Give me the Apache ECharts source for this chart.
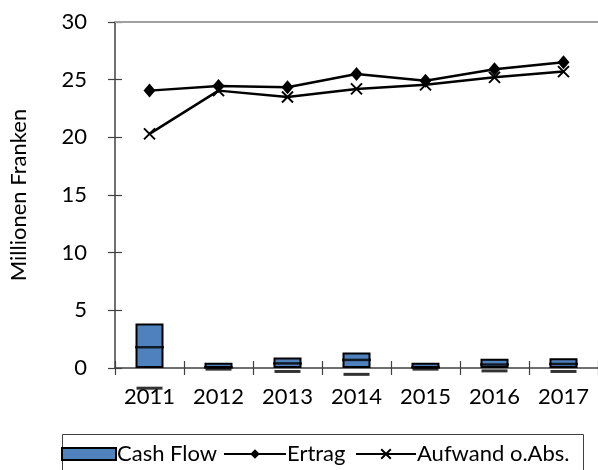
<!DOCTYPE html>
<html>
<head>
<meta charset="utf-8">
<script src="https://cdn.jsdelivr.net/npm/echarts@6/dist/echarts.min.js"></script>
<style>
html,body{margin:0;padding:0;background:#fff;}
#chart{width:598px;height:470px;}
</style>
</head>
<body>
<div id="chart"></div>
<script>
const years = ['2011','2012','2013','2014','2015','2016','2017'];
const cashFlowTop = [3.85, 0.45, 0.9, 1.35, 0.45, 0.8, 0.85];
const cashFlowMid = [1.8, 0.05, 0.4, 0.7, 0.05, 0.3, 0.35];
const cashFlowLow = [-1.75, -0.1, -0.3, -0.55, -0.1, -0.25, -0.3];
const ertrag = [24.05, 24.45, 24.35, 25.5, 24.9, 25.9, 26.5];
const aufwand = [20.3, 24.05, 23.5, 24.2, 24.55, 25.2, 25.7];
const yTicks = {min: 0, max: 30, interval: 5};

const FONT = 'Lato';
const FS = 22;
const xMarker = 'path://M0,0L10,10M10,0L0,10';

const chart = echarts.init(document.getElementById('chart'), null, {renderer: 'canvas'});
chart.setOption({
  animation: false,
  textStyle: {fontFamily: FONT},
  grid: {left: 104, top: 22, width: 496, height: 346, containLabel: false},
  xAxis: [{
    type: 'category', data: years, gridIndex: 0,
    axisLine: {lineStyle: {color: '#404040', width: 1.5}},
    axisTick: {show: true, length: 7, lineStyle: {color: '#404040', width: 1.2}},
    axisLabel: {color: '#000', fontSize: FS, fontFamily: FONT, margin: 18}
  }, {
    type: 'category', data: years, gridIndex: 0, position: 'bottom',
    axisLine: {show: false},
    axisTick: {show: true, inside: true, length: 7, lineStyle: {color: '#404040', width: 1.2}},
    axisLabel: {show: false}
  }],
  yAxis: [{
    type: 'value', min: yTicks.min, max: yTicks.max, interval: yTicks.interval,
    name: 'Millionen Franken', nameLocation: 'middle', nameGap: 85, nameRotate: 90,
    nameTextStyle: {color: '#000', fontSize: FS, fontFamily: FONT},
    axisLine: {show: true, lineStyle: {color: '#404040', width: 1.5}},
    axisTick: {show: true, length: 7, lineStyle: {color: '#404040', width: 1.2}},
    axisLabel: {color: '#000', fontSize: FS, fontFamily: FONT, margin: 28},
    splitLine: {show: false}
  }, {
    type: 'value', min: yTicks.min, max: yTicks.max, interval: yTicks.interval, position: 'left',
    axisLine: {show: false},
    axisTick: {show: true, inside: true, length: 7, lineStyle: {color: '#404040', width: 1.2}},
    axisLabel: {show: false},
    splitLine: {show: false}
  }],
  legend: [{
    data: [{name: 'Cash Flow', icon: 'rect'}], left: 61, top: 443, padding: 0,
    itemWidth: 54, itemHeight: 12, itemGap: 0,
    textStyle: {color: '#000', fontSize: FS, fontFamily: FONT, padding: [0,0,0,-4]}
  }, {
    data: ['Ertrag'], left: 223, top: 443, padding: 0,
    itemWidth: 62, itemHeight: 12,
    textStyle: {color: '#000', fontSize: FS, fontFamily: FONT, padding: [0,0,0,-4]}
  }, {
    data: ['Aufwand o.Abs.'], left: 355, top: 443, padding: 0,
    itemWidth: 60, itemHeight: 12,
    textStyle: {color: '#000', fontSize: FS, fontFamily: FONT, padding: [0,0,0,-4]}
  }],
  graphic: [{
    type: 'rect', left: 60, top: 432,
    shape: {width: 521, height: 60},
    style: {fill: 'none', stroke: '#404040', lineWidth: 1}
  }],
  series: [{
    name: 'Cash Flow', type: 'bar', data: cashFlowTop, barWidth: 28, z: 2,
    itemStyle: {color: '#4F81BD', borderColor: '#000', borderWidth: 2},
    markLine: {
      silent: true, symbol: 'none', label: {show: false},
      lineStyle: {color: '#a0a0a0', width: 2, type: 'solid'},
      data: [{yAxis: 30}]
    }
  }, {
    name: 'CF Mitte', type: 'scatter', data: cashFlowMid, symbol: 'rect', clip: false,
    symbolSize: [29, 2.5], z: 3, itemStyle: {color: '#000'}
  }, {
    name: 'CF Tief', type: 'scatter', data: cashFlowLow, symbol: 'rect', clip: false,
    symbolSize: [26, 3], z: 3, itemStyle: {color: '#000'}
  }, {
    name: 'Ertrag', type: 'line', data: ertrag, z: 5,
    symbol: 'diamond', symbolSize: [12, 14],
    lineStyle: {color: '#000', width: 2.5},
    itemStyle: {color: '#000'}
  }, {
    name: 'Aufwand o.Abs.', type: 'line', data: aufwand, z: 4,
    symbol: xMarker, symbolSize: 11,
    lineStyle: {color: '#000', width: 2.5},
    itemStyle: {color: '#000', borderColor: '#000', borderWidth: 2}
  }]
});
</script>
</body>
</html>
